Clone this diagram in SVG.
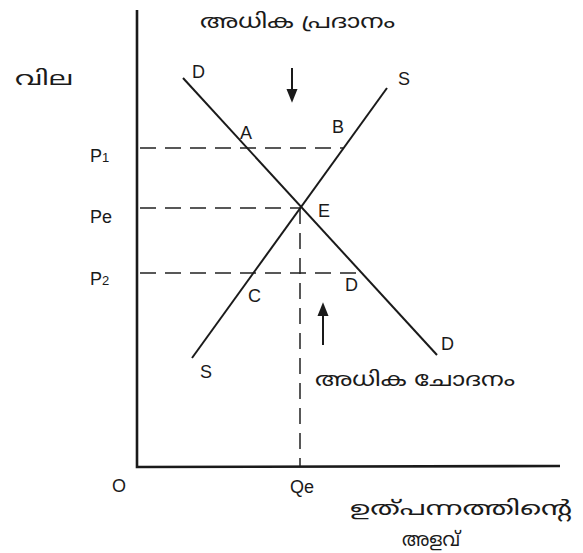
<svg xmlns="http://www.w3.org/2000/svg" width="583" height="553" viewBox="0 0 583 553">
<defs>
<style>
.ax{stroke:#1a1a1a;stroke-width:2.6;fill:none}
.cv{stroke:#1a1a1a;stroke-width:2;fill:none}
.dash{stroke:#222;stroke-width:1.5;fill:none;stroke-dasharray:16 9}
.lb{font-family:"Liberation Sans","Noto Sans",sans-serif;fill:#1a1a1a;font-size:18px}
.ml{font-family:"Noto Sans Malayalam","Noto Sans","DejaVu Sans",sans-serif;fill:#1a1a1a;font-size:20px}
</style>
<marker id="ah" viewBox="0 0 10 10" refX="8" refY="5" markerWidth="7" markerHeight="7" orient="auto"><path d="M0,1 L10,5 L0,9 Z" fill="#1a1a1a"/></marker>
</defs>
<rect width="583" height="553" fill="#ffffff"/>
<g id="axes">
<path class="ax" d="M137,10 L137,467 L560,466"/>
<text class="ml" x="15" y="85" font-size="23" textLength="58" lengthAdjust="spacingAndGlyphs">വില</text>
<text class="lb" x="112" y="492">O</text>
<text class="ml" x="350" y="515" textLength="222" lengthAdjust="spacingAndGlyphs">ഉത്പന്നത്തിന്റെ</text>
<text class="ml" x="402" y="546" textLength="58" lengthAdjust="spacingAndGlyphs">അളവ്</text>
</g>
<g id="connectors">
<path class="dash" d="M140,148 L343,148"/>
<path class="dash" d="M140,208 L300,208"/>
<path class="dash" d="M140,273 L356,273"/>
<path class="dash" d="M300,208 L300,466"/>
<path class="cv" d="M292,68 L292,100" marker-end="url(#ah)"/>
<path class="cv" d="M323,345 L323,305" marker-end="url(#ah)"/>
</g>
<g id="demand">
<path class="cv" d="M183,78 L437,355"/>
<text class="lb" x="192" y="78">D</text>
<text class="lb" x="441" y="350">D</text>
</g>
<g id="supply">
<path class="cv" d="M192,358 L387,88"/>
<text class="lb" x="398" y="85">S</text>
<text class="lb" x="200" y="378">S</text>
</g>
<g id="points">
<text class="lb" x="240" y="139">A</text>
<text class="lb" x="332" y="133">B</text>
<text class="lb" x="318" y="217">E</text>
<text class="lb" x="248" y="302">C</text>
<text class="lb" x="345" y="291">D</text>
<text class="lb" x="90" y="162">P<tspan font-size="13">1</tspan></text>
<text class="lb" x="90" y="223">Pe</text>
<text class="lb" x="90" y="285">P<tspan font-size="13">2</tspan></text>
<text class="lb" x="290" y="493">Qe</text>
</g>
<g id="labels">
<text class="ml" x="200" y="28" textLength="195" lengthAdjust="spacingAndGlyphs">അധിക പ്രദാനം</text>
<text class="ml" x="315" y="386" textLength="200" lengthAdjust="spacingAndGlyphs">അധിക ചോദനം</text>
</g>
</svg>
